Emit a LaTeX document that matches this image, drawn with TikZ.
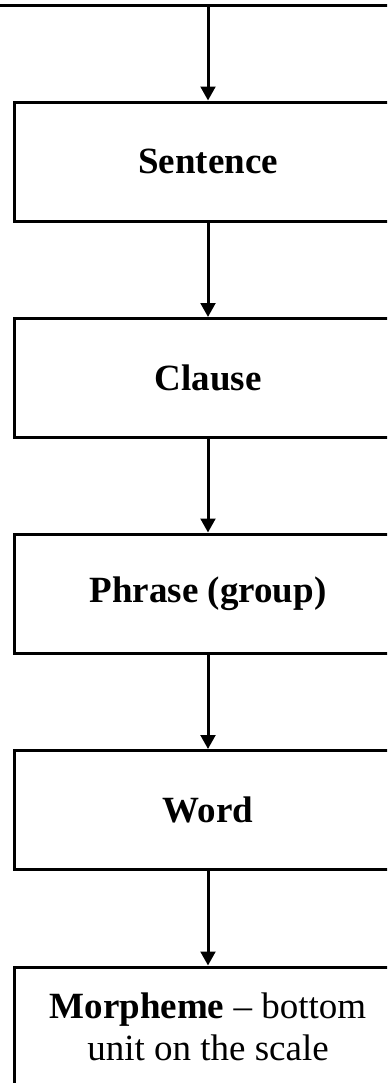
\documentclass[tikz,border=0pt]{standalone}
\usepackage{fontspec}
\setmainfont{Liberation Serif}
\usetikzlibrary{arrows.meta}

\begin{document}
\begin{tikzpicture}[
    x=0.75pt, y=-0.75pt,
    unit/.style={rectangle, draw=black, line width=2.25pt, fill=white,
      minimum width=291pt, minimum height=89.25pt, align=center,
      font=\fontsize{27.75pt}{31.5pt}\selectfont},
    arrow/.style={-{Triangle[length=10.5pt,width=11pt]}, line width=2.25pt}
]
\clip (0,0) rectangle (387,1083);

\coordinate (topL) at (-10,5);
\coordinate (topR) at (400,5);
\coordinate (top) at (208,5);

\node[unit] (sent) at (208,161.5) {\textbf{Sentence}};
\node[unit] (clause) at (208,378) {\textbf{Clause}};
\node[unit] (phrase) at (208,593.5) {\textbf{Phrase (group)}};
\node[unit] (word) at (208,810) {\textbf{Word}};
\node[unit] (morph) at (208,1026.5) {\textbf{Morpheme} -- bottom\\unit on the scale};

\draw[line width=2.25pt] (topL)--(topR);
\draw[arrow] (top)--(sent);
\draw[arrow] (sent)--(clause);
\draw[arrow] (clause)--(phrase);
\draw[arrow] (phrase)--(word);
\draw[arrow] (word)--(morph);

\end{tikzpicture}
\end{document}
